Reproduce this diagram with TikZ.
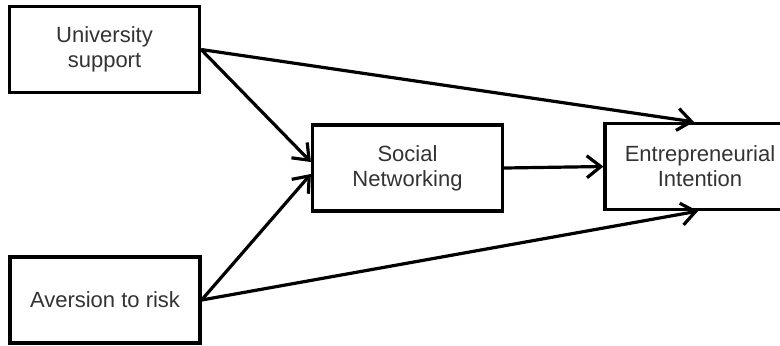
\documentclass[tikz,border=0pt]{standalone}
\usepackage{fontspec}
\setmainfont{Liberation Sans}
\usepackage{tikz}
\usetikzlibrary{arrows.meta}
\tikzset{
    factor/.style={draw, line width=1.6pt, fill=white, text=black!80, align=center,
        font=\fontsize{11}{12.5}\selectfont, minimum width=95pt, minimum height=43pt},
    link/.style={line width=1.6pt, -{Straight Barb[length=7pt,width=11pt,line width=1.6pt]}},
}

\begin{document}
\begin{tikzpicture}[x=0.5pt,y=-0.5pt]
    \useasboundingbox (0,0) rectangle (780,345);
    \clip (0,0) rectangle (780,345);
    \node[factor] (us) at (104.5,49.5) {University\\support};
    \node[factor] (ar) at (105,300) {Aversion to risk};
    \node[factor] (sn) at (407.5,168) {Social\\Networking};
    \node[factor] (ei) at (700,166.5) {Entrepreneurial\\Intention};
    \draw[link] (us.east) -- ([yshift=3pt]sn.west);
    \draw[link] (ar.east) -- ([yshift=-3pt]sn.west);
    \draw[link] (sn.east) -- (ei.west);
    \draw[link] (us.east) -- ([xshift=-3pt]ei.north);
    \draw[link] (ar.east) -- ([xshift=-1pt]ei.south);
\end{tikzpicture}
\end{document}
